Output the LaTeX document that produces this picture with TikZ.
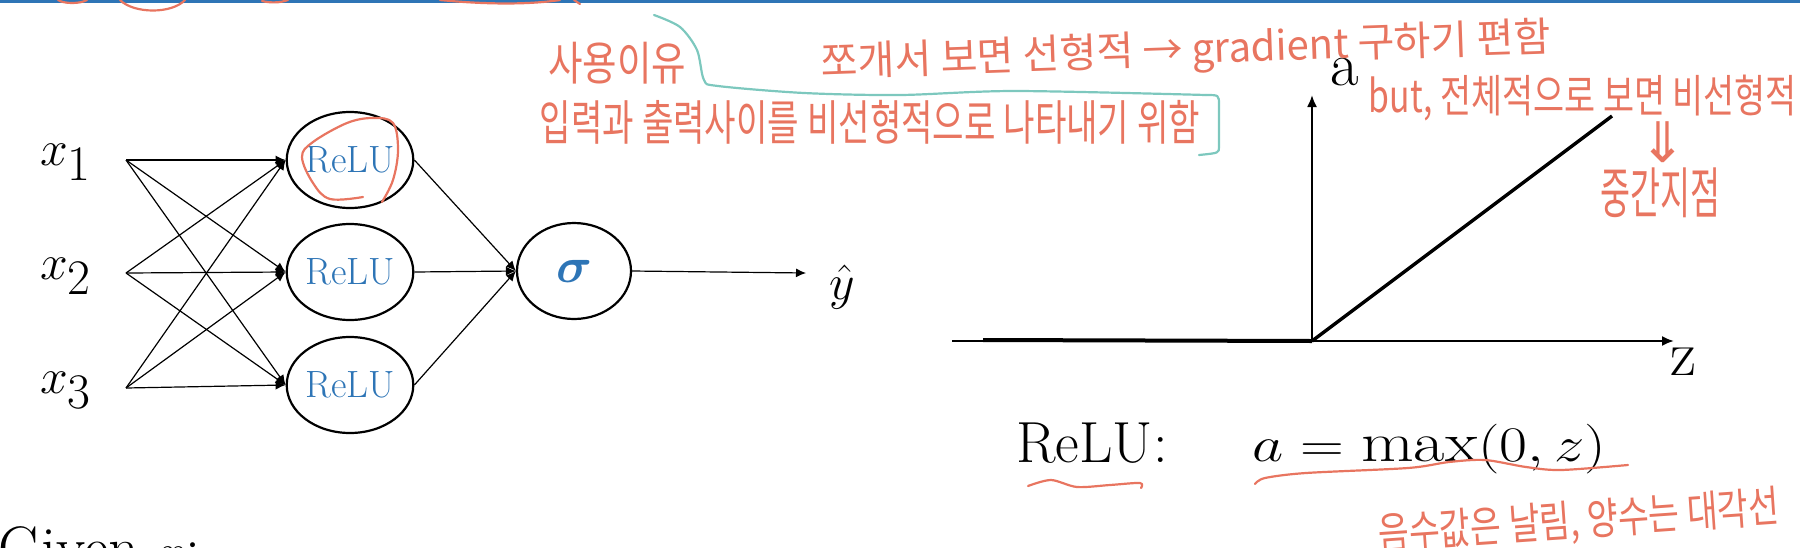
\documentclass[tikz,border=0pt]{standalone}
\usepackage{fontspec}
\usepackage{amsmath}
\usepackage{bm}
\usepackage{graphicx}
\usetikzlibrary{arrows.meta,shapes.geometric}
\newfontfamily\korfont{Noto Sans CJK KR}
\newfontfamily\djvfont{DejaVu Sans}
\definecolor{topblue}{RGB}{46,117,182}
\definecolor{nodeblue}{RGB}{46,117,182}
\definecolor{pen}{RGB}{232,117,96}
\definecolor{tealpen}{RGB}{125,200,190}
\begin{document}
\begin{tikzpicture}[x=0.5pt,y=-0.5pt,
  neuron/.style={ellipse,draw,line width=1.1pt,minimum width=57pt,minimum height=48pt,inner sep=0pt,text=nodeblue,font=\fontsize{19}{22}\selectfont},
  conn/.style={line width=0.6pt,-{Latex[length=5pt,width=4.5pt]}},
  inlabel/.style={inner sep=0pt,font=\fontsize{34}{40}\selectfont},
  axisline/.style={line width=1pt,-{Latex[length=6pt,width=5pt]}},
  note/.style={text=pen,inner sep=0pt,font=\korfont},
  penline/.style={pen,line width=1.1pt,line cap=round,line join=round},
  tealline/.style={tealpen,line width=1.1pt,line cap=round,line join=round}]
\useasboundingbox (0,0) rectangle (1800,547);
\fill[topblue] (0,0) rectangle (1800,3);
% top scribbles
\draw[penline] (58,0) .. controls (64,4) and (80,4) .. (87,0);
\draw[penline] (120,0) .. controls (134,14) and (172,14) .. (185,0);
\draw[penline] (262,1) .. controls (270,3) and (280,3) .. (288,0);
\draw[penline] (440,0) .. controls (470,3) and (520,6) .. (560,0);
\draw[penline] (574,0) -- (580,4);
% inputs
\node[inlabel] (x1) at (66,162) {$x_1$};
\node[inlabel] (x2) at (66,276) {$x_2$};
\node[inlabel] (x3) at (66,390) {$x_3$};
\coordinate (s1) at (126,160);
\coordinate (s2) at (126,273);
\coordinate (s3) at (126,388);
% hidden
\node[neuron] (h1) at (350,160) {ReLU};
\node[neuron] (h2) at (350,272) {ReLU};
\node[neuron] (h3) at (350,385) {ReLU};
% output
\node[neuron,font=\fontsize{30}{36}\selectfont] (o) at (574,271) {$\bm{\sigma}$};
\coordinate (yend) at (806,273);
\node[inlabel] (yhat) at (842,287) {$\hat{y}$};
\foreach \s in {s1,s2,s3}{
  \foreach \h in {h1,h2,h3}{
    \draw[conn] (\s) -- (\h.west);
  }
}
\foreach \h in {h1,h2,h3}{
  \draw[conn] (\h.east) -- (o.west);
}
\draw[conn] (o.east) -- (yend);
% red circle around first ReLU
\draw[penline] plot[smooth,tension=0.6] coordinates {(363,197) (330,199) (313,183) (302,157) (313,142) (347,123) (373,118) (393,123) (398,150) (393,180) (382,202)};
% graph
\coordinate (O) at (1312,341);
\coordinate (ytop) at (1312,95);
\coordinate (xl) at (952,341);
\coordinate (xr) at (1674,341);
\coordinate (neg) at (983,340);
\coordinate (diag) at (1612,116);
\draw[axisline] (O) -- (ytop);
\draw[axisline] (xl) -- (xr);
\draw[line width=2pt] (neg) -- (O);
\draw[line width=1.7pt] (O) -- (diag);
\node[inner sep=0pt,font=\fontsize{31}{36}\selectfont] (alab) at (1345,72) {a};
\node[inner sep=0pt,font=\fontsize{32}{36}\selectfont] (zlab) at (1683,362) {z};
\node[inner sep=0pt,anchor=base west,font=\fontsize{29}{34}\selectfont] (relulab) at (1016,462) {ReLU:};
\node[inner sep=0pt,anchor=base west,font=\fontsize{28}{34}\selectfont] (formula) at (1252,461) {\scalebox{1.22}[1]{$a = \max(0,z)$}};
\node[inner sep=0pt,anchor=base west,font=\fontsize{30}{36}\selectfont] (given) at (-2,568) {Given $x$:};
% underlines
\draw[penline] plot[smooth] coordinates {(1028,486) (1051,480) (1077,487) (1110,485) (1140,483) (1141,488)};
\draw[penline] plot[smooth] coordinates {(1255,484) (1265,478) (1306,473) (1408,468) (1449,462) (1485,460) (1526,467) (1561,470) (1628,465)};
% teal bracket
\draw[tealline] plot[smooth] coordinates {(654,15) (680,27) (697,50) (704,80) (718,86) (804,93) (900,95) (1015,91) (1206,95)};
\draw[tealline] (1206,95) .. controls (1219,95) .. (1219,105) -- (1219,147) .. controls (1219,153) .. (1199,155);
% notes
\node[note] (n1) at (617,63) {\resizebox*{69pt}{21pt}{사용이유}};
\node[note,rotate=2] (n2) at (1186,52) {\resizebox*{365pt}{22pt}{쪼개서 보면 선형적 → gradient 구하기 편함}};
\node[note] (n3) at (870,122) {\resizebox*{330pt}{22pt}{입력과 출력사이를 비선형적으로 나타내기 위함}};
\node[note] (n4) at (1583,98) {\resizebox*{214pt}{23pt}{but, 전체적으로 보면 비선형적}};
\node[note,font=\djvfont\fontsize{28}{30}\selectfont] (n5) at (1663,142) {⇓};
\node[note] (n6) at (1660,193) {\resizebox*{60pt}{25pt}{중간지점}};
\node[note,rotate=4] (n7) at (1579,522) {\resizebox*{201pt}{22pt}{음수값은 날림, 양수는 대각선}};
\end{tikzpicture}
\end{document}
